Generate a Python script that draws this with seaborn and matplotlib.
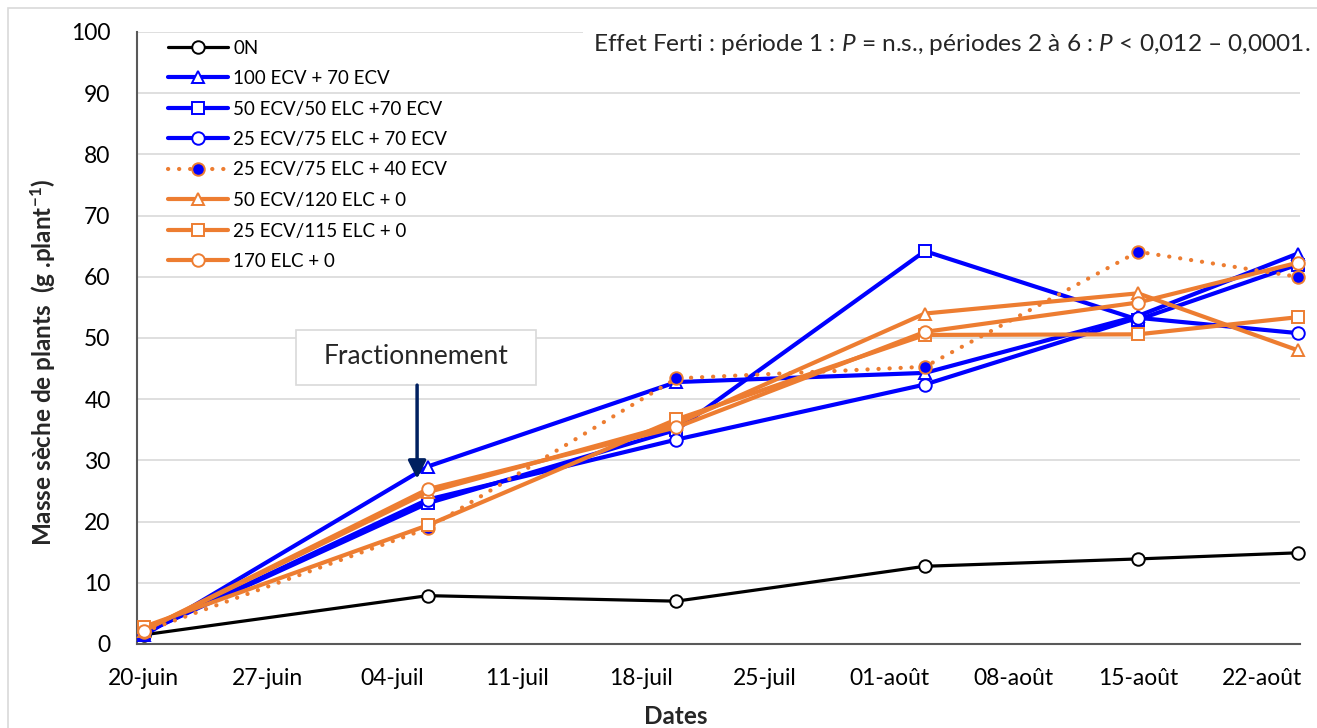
import numpy as np
import pandas as pd
import matplotlib
matplotlib.use("Agg")
import matplotlib.pyplot as plt
import matplotlib.dates as mdates
from matplotlib.patches import Rectangle
import seaborn as sns

# sampling dates and dry mass per treatment (g/plant)
dates = pd.to_datetime(["2021-06-20", "2021-07-06", "2021-07-20",
                        "2021-08-03", "2021-08-15", "2021-08-24"])
on_0 = [1.5, 7.9, 7.0, 12.7, 13.9, 14.9]
ecv100_70 = [1.4, 29.0, 42.8, 44.3, 53.6, 63.8]
ecv50_elc50_70 = [1.8, 23.0, 35.0, 64.2, 53.0, 62.0]
ecv25_elc75_70 = [1.8, 23.6, 33.4, 42.4, 53.3, 50.8]
ecv25_elc75_40 = [2.0, 18.9, 43.4, 45.3, 64.1, 60.0]
ecv50_elc120 = [2.2, 24.8, 36.0, 54.0, 57.3, 48.0]
ecv25_elc115 = [2.8, 19.4, 36.7, 50.5, 50.6, 53.4]
elc170 = [2.2, 25.3, 35.4, 51.0, 55.8, 62.3]

labels = ["0N", "100 ECV + 70 ECV", "50 ECV/50 ELC +70 ECV",
          "25 ECV/75 ELC + 70 ECV", "25 ECV/75 ELC + 40 ECV",
          "50 ECV/120 ELC + 0", "25 ECV/115 ELC + 0", "170 ELC + 0"]
tick_dates = pd.date_range("2021-06-20", periods=10, freq="7D")
tick_labels = ["20-juin", "27-juin", "04-juil", "11-juil", "18-juil",
               "25-juil", "01-août", "08-août", "15-août", "22-août"]

BLUE = "#0000FF"
ORANGE = "#ED7D31"
NAVY = "#002060"

sns.set_theme(style="white")
plt.rcParams["font.family"] = ["Lato", "DejaVu Sans"]
plt.rcParams["mathtext.fontset"] = "custom"
plt.rcParams["mathtext.rm"] = "Lato"
plt.rcParams["mathtext.it"] = "Lato:italic"
plt.rcParams["mathtext.bf"] = "Lato:bold"

fig = plt.figure(figsize=(13.17, 7.28), dpi=100)
ax = fig.add_axes([137 / 1317, 84 / 728, 1163 / 1317, 612 / 728])

series = [
    (on_0, "black", "o", "white", "-", 2.3),
    (ecv100_70, BLUE, "^", "white", "-", 3.0),
    (ecv50_elc50_70, BLUE, "s", "white", "-", 3.0),
    (ecv25_elc75_70, BLUE, "o", "white", "-", 3.0),
    (ecv25_elc75_40, ORANGE, "o", BLUE, (0, (0.05, 2.6)), 3.0),
    (ecv50_elc120, ORANGE, "^", "white", "-", 3.0),
    (ecv25_elc115, ORANGE, "s", "white", "-", 3.0),
    (elc170, ORANGE, "o", "white", "-", 3.0),
]

handles = []
for i, (vals, col, mk, mfc, ls, lw) in enumerate(series):
    sns.lineplot(x=dates, y=vals, ax=ax, color=col, marker=mk,
                 markersize=9, markerfacecolor=mfc, markeredgecolor=col,
                 markeredgewidth=1.4, linestyle=ls, linewidth=lw,
                 dash_capstyle="round", clip_on=False, zorder=3 + i)
    handles.append(ax.lines[-1])

ax.set_xlim(dates[0] - pd.Timedelta(hours=9), dates[-1] + pd.Timedelta(hours=3))
ax.set_ylim(0, 100)
ax.set_yticks(np.arange(0, 101, 10))
ax.set_xticks(tick_dates)
ax.set_xticklabels(tick_labels)
ax.tick_params(axis="both", length=0, labelsize=16.5, colors="black")
ax.tick_params(axis="y", pad=19)
ax.tick_params(axis="x", pad=17)
ax.yaxis.grid(True, color="#d9d9d9", linewidth=1.2)
ax.xaxis.grid(False)
for s in ["top", "right"]:
    ax.spines[s].set_visible(False)
for s in ["left", "bottom"]:
    ax.spines[s].set_color("#595959")
    ax.spines[s].set_linewidth(1.5)

ax.set_xlabel("Dates", fontsize=17.5, fontweight="bold", va="center")
ax.xaxis.set_label_coords((676 - 137) / 1163, -0.118)
ax.set_ylabel(r"Masse sèche de plants  (g .plant$^{\mathbf{-1}}$)",
              fontsize=17.5, fontweight="bold")
ax.yaxis.set_label_coords(-0.069, 0.46)

leg = ax.legend(handles, labels, loc="upper left", bbox_to_anchor=(0.02, 1.0),
                frameon=False, fontsize=13.5, handlelength=3.2,
                handletextpad=0.3, labelspacing=0.72, borderaxespad=0)
for t in leg.get_texts():
    t.set_color("black")

ax.text(1.009, 0.979,
        r"Effet Ferti : période 1 : $\mathit{P}$ = n.s., périodes 2 à 6 : $\mathit{P}$ < 0,012 – 0,0001.",
        transform=ax.transAxes, ha="right", va="center", fontsize=17.6,
        bbox=dict(boxstyle="square,pad=0.4", fc="white", ec="none"), zorder=20)

# "Fractionnement" call-out
x0 = mdates.date2num(dates[0])
box = Rectangle((x0 + 8.6, 42.3), 13.5, 9.0, facecolor="white",
                edgecolor="#d9d9d9", linewidth=1.2, zorder=15)
ax.add_patch(box)
ax.text(x0 + 15.35, 46.9, "Fractionnement", ha="center", va="center",
        fontsize=19, zorder=16)
ax.annotate("", xy=(x0 + 15.4, 27.0), xytext=(x0 + 15.4, 42.3),
            arrowprops=dict(arrowstyle="-|>,head_length=0.9,head_width=0.45",
                            color=NAVY, lw=2.5, shrinkA=0, shrinkB=0),
            zorder=17)

# outer chart-area border
fig.patches.append(Rectangle((8 / 1317, -0.5), 2, 1.5 - 8 / 728,
                             transform=fig.transFigure, fill=False,
                             edgecolor="#d9d9d9", linewidth=1.2))

fig.savefig("out.png", dpi=100)
